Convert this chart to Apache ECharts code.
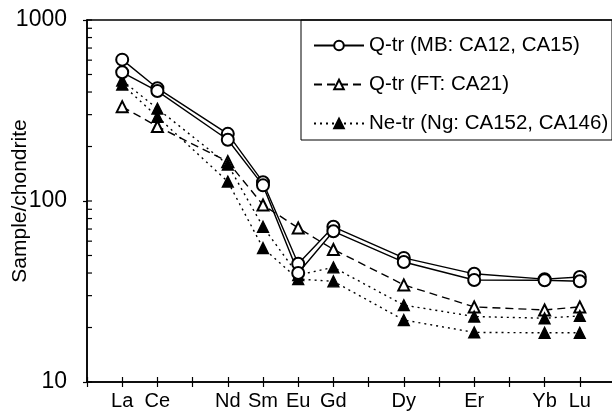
<!DOCTYPE html>
<html>
<head>
<meta charset="utf-8">
<script src="https://cdn.jsdelivr.net/npm/echarts@6/dist/echarts.min.js"></script>
<style>
  html, body { margin: 0; padding: 0; background: #fff; }
  #chart { width: 612px; height: 414px; }
</style>
</head>
<body>
<div id="chart"></div>
<script>
// REE positions on the x scale (La = 1 … Lu = 14), labels only for plotted elements
const elements = ['La', 'Ce', 'Pr', 'Nd', 'Sm', 'Eu', 'Gd', 'Tb', 'Dy', 'Ho', 'Er', 'Tm', 'Yb', 'Lu'];
const labelled = ['La', 'Ce', 'Nd', 'Sm', 'Eu', 'Gd', 'Dy', 'Er', 'Yb', 'Lu'];

// chondrite-normalised abundances, in the order of `labelled`
const ca12  = [604, 420, 235, 127, 45, 72, 48.5, 39.6, 37, 38];
const ca15  = [514, 405, 218, 122, 40, 68, 46, 36.6, 36.5, 36];
const ca21  = [332, 258, 165, 95, 71, 54, 34.4, 26, 25, 26];
const ca152 = [463, 324, 159, 72, 39, 43, 26.6, 23, 22.5, 23.2];
const ca146 = [440, 292, 128, 55, 37, 36, 22, 18.8, 18.7, 18.7];

const yTicks = [10, 100, 1000];
const minorTicks = [20, 30, 40, 50, 60, 70, 80, 90, 200, 300, 400, 500, 600, 700, 800, 900];

const nameMB = 'Q-tr (MB: CA12, CA15)';
const nameFT = 'Q-tr (FT: CA21)';
const nameNg = 'Ne-tr (Ng: CA152, CA146)';

const FONT = 'Liberation Sans';

function pairs(vals) {
  return labelled.map((el, i) => [elements.indexOf(el) + 1, vals[i]]);
}

function lineSeries(name, vals, symbol, lineType) {
  return {
    name: name,
    type: 'line',
    data: pairs(vals),
    symbol: symbol,
    symbolSize: symbol === 'emptyCircle' ? 12 : 11,
    lineStyle: { color: '#000', width: 1.4, type: lineType },
    itemStyle: { color: '#000', borderColor: '#000', borderWidth: 1.3 },
    emphasis: { disabled: true },
    z: symbol === 'emptyCircle' ? 4 : 3
  };
}

// short inward ticks on the log axis
const innerTicks = {
  type: 'custom',
  silent: true,
  clip: false,
  data: minorTicks.concat(yTicks).map(v => [0, v]),
  renderItem: function (params, api) {
    const p = api.coord([0, api.value(1)]);
    return {
      type: 'line',
      shape: { x1: p[0], y1: p[1], x2: p[0] + 5, y2: p[1] },
      style: { stroke: '#000', lineWidth: 1.2 }
    };
  },
  z: 5
};

const chart = echarts.init(document.getElementById('chart'), null, { renderer: 'canvas' });

chart.setOption({
  animation: false,
  backgroundColor: '#fff',
  textStyle: { fontFamily: FONT },
  grid: {
    left: 87, top: 20, width: 528, bottom: 32,
    outerBoundsMode: 'none', containLabel: false,
    show: true, borderColor: '#000', borderWidth: 1.5, backgroundColor: 'transparent'
  },
  xAxis: [{
    type: 'value', min: 0, max: 15, interval: 1,
    axisLine: { lineStyle: { color: '#000', width: 1.5 } },
    axisTick: { length: 5, lineStyle: { color: '#000', width: 1.2 } },
    axisLabel: {
      margin: 9, color: '#000', fontSize: 20, fontFamily: FONT,
      formatter: v => (labelled.indexOf(elements[v - 1]) >= 0 ? elements[v - 1] : '')
    },
    splitLine: { show: false }
  }, {
    type: 'value', min: 0, max: 15, interval: 1, position: 'bottom', gridIndex: 0,
    axisLine: { show: false },
    axisTick: { inside: true, length: 5, lineStyle: { color: '#000', width: 1.2 } },
    axisLabel: { show: false },
    splitLine: { show: false }
  }],
  yAxis: {
    type: 'log', logBase: 10, min: 10, max: 1000,
    name: 'Sample/chondrite', nameLocation: 'middle', nameGap: 56,
    nameMoveOverlap: false,
    nameTextStyle: { color: '#000', fontSize: 21, fontFamily: FONT },
    axisLine: { lineStyle: { color: '#000', width: 1.5 } },
    axisTick: { length: 4, lineStyle: { color: '#000', width: 1.2 } },
    axisLabel: {
      margin: 20, color: '#000', fontSize: 23, fontFamily: FONT,
      formatter: v => String(v)
    },
    splitLine: { show: false }
  },
  legend: {
    data: [nameMB, nameFT, nameNg],
    orient: 'vertical',
    left: 308, top: 30,
    itemWidth: 50, itemHeight: 12, itemGap: 18,
    textStyle: { color: '#000', fontSize: 20.5, fontFamily: FONT },
    selectedMode: false
  },
  graphic: [{
    type: 'rect',
    shape: { x: 301, y: 20, width: 311, height: 120 },
    style: { fill: 'none', stroke: '#000', lineWidth: 1 },
    silent: true, z: 0
  }],
  series: [
    lineSeries(nameMB, ca12, 'emptyCircle', 'solid'),
    lineSeries(nameMB, ca15, 'emptyCircle', 'solid'),
    lineSeries(nameFT, ca21, 'emptyTriangle', [8, 5]),
    lineSeries(nameNg, ca152, 'triangle', [2, 4]),
    lineSeries(nameNg, ca146, 'triangle', [2, 4]),
    innerTicks
  ]
});
</script>
</body>
</html>
